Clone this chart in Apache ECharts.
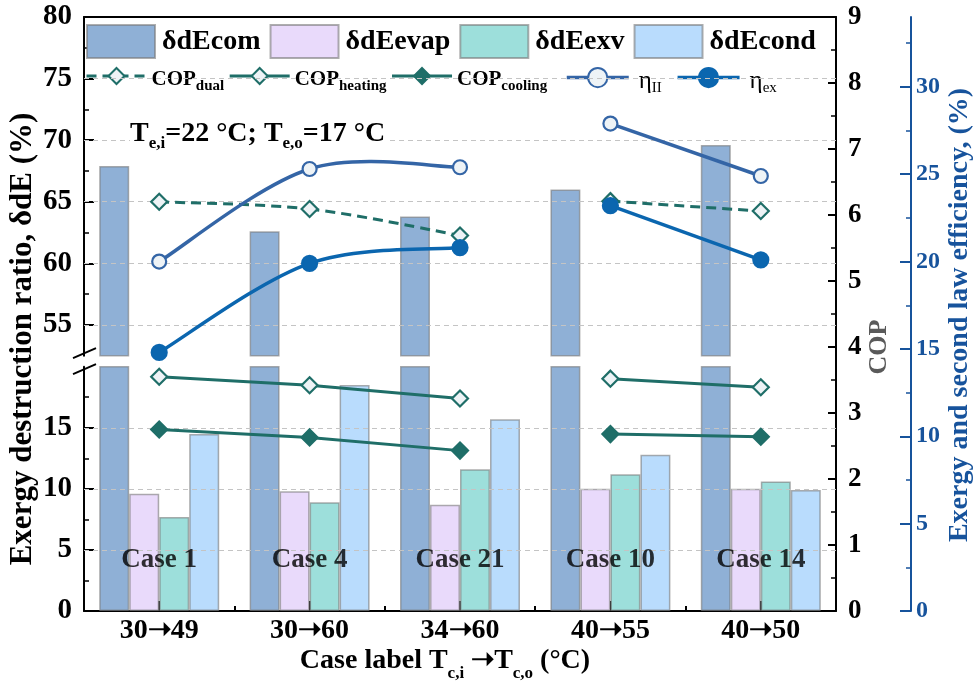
<!DOCTYPE html>
<html><head><meta charset="utf-8">
<script src="https://cdn.jsdelivr.net/npm/echarts@6/dist/echarts.min.js"></script>
<style>html,body{margin:0;padding:0;background:#fff}#c{width:978px;height:688px}</style>
</head><body><div id="c"></div>
<script>
// ---------------- data ----------------
const categories = ['30\u279D49', '30\u279D60', '34\u279D60', '40\u279D55', '40\u279D50'];
const caseNames = ['Case 1', 'Case 4', 'Case 21', 'Case 10', 'Case 14'];
const dEcom  = [67.9, 62.6, 63.8, 66.0, 69.6];
const dEevap = [9.6, 9.8, 8.7, 10.0, 10.0];
const dEexv  = [7.7, 8.9, 11.6, 11.2, 10.6];
const dEcond = [14.5, 18.5, 15.7, 12.8, 9.9];
const copDual    = [6.20, 6.09, 5.69, 6.21, 6.06];
const copHeating = [3.55, 3.42, 3.22, 3.52, 3.39];
const copCooling = [2.75, 2.63, 2.43, 2.68, 2.64];
const etaII = [20.0, 25.3, 25.4, 27.9, 24.9];
const etaEx = [14.8, 19.9, 20.8, 23.2, 20.1];
const upperTicks = [55, 60, 65, 70, 75, 80];
const lowerTicks = [0, 5, 10, 15];
const effTicks = [0, 5, 10, 15, 20, 25, 30];
const segments = [[0, 1, 2], [3, 4]];

// ---------------- layout / style ----------------
const F = '"Liberation Serif","Times New Roman",serif';
const UPPER_MIN = 52.5, UPPER_MAX = 80, LOWER_MAX = 20, CASE_Y = 4.2;
const GL = 84, GR = 142, GT = 17, GB = 77;
const LOW_TOP = 366.7;
const TEAL = '#1f6e68', BLUE_II = '#3465a6', BLUE_EX = '#0b66af', EFF_BLUE = '#17539c';
const OPEN_FILL = '#eef3f6';
const BAR_BORDER = 'rgba(120,120,120,0.6)';
const barDefs = [
  {name: 'δdEcom', data: dEcom, color: '#8fb0d6'},
  {name: 'δdEevap', data: dEevap, color: '#e9dafb'},
  {name: 'δdEexv', data: dEexv, color: '#9ddfdb'},
  {name: 'δdEcond', data: dEcond, color: '#b9dcfd'}
];
const lineDefs = [
  {name: 'COPdual', data: copDual, y: 2, symbol: 'diamond', size: 16, open: true, color: TEAL, dash: [10, 6], curve: true, width: 3},
  {name: 'COPheating', data: copHeating, y: 2, symbol: 'diamond', size: 16, open: true, color: TEAL, dash: null, curve: false, width: 3},
  {name: 'COPcooling', data: copCooling, y: 2, symbol: 'diamond', size: 16, open: false, color: TEAL, dash: null, curve: false, width: 3},
  {name: 'etaII', data: etaII, y: 3, symbol: 'circle', size: 14, open: true, color: BLUE_II, dash: null, curve: true, width: 3.5},
  {name: 'etaEx', data: etaEx, y: 3, symbol: 'circle', size: 15, open: false, color: BLUE_EX, dash: null, curve: true, width: 3.5}
];

const gridLineStyle = {color: '#c4c4c4', width: 1, type: [5, 4]};
const series = [];
barDefs.forEach((b, k) => {
  const common = {
    type: 'bar', name: b.name, barWidth: 30, barGap: '0%', z: 2, clip: true,
    itemStyle: {color: b.color, borderColor: BAR_BORDER, borderWidth: 1.5}
  };
  const lower = Object.assign({}, common, {xAxisIndex: 1, yAxisIndex: 1, data: b.data.slice()});
  const upper = Object.assign({}, common, {xAxisIndex: 0, yAxisIndex: 0,
    data: b.data.map(v => v > UPPER_MIN ? v : null)});
  if (k === 0) {
    lower.markLine = {silent: true, symbol: 'none', label: {show: false}, animation: false,
      lineStyle: gridLineStyle, data: lowerTicks.filter(v => v > 0).map(v => ({yAxis: v}))};
    upper.markLine = {silent: true, symbol: 'none', label: {show: false}, animation: false,
      lineStyle: gridLineStyle, data: upperTicks.filter(v => v < UPPER_MAX).map(v => ({yAxis: v}))};
  }
  series.push(lower, upper);
});

// Catmull-Rom curve through the scaled data points (rendering only, no extra data)
function curveRenderer(def, seg) {
  return function (params, api) {
    if (params.dataIndex !== 0) return null;
    const pts = seg.map(i => api.coord([i, def.data[i]]));
    const children = [];
    for (let k = 0; k < pts.length - 1; k++) {
      const p0 = pts[k - 1] || pts[k], p1 = pts[k], p2 = pts[k + 1], p3 = pts[k + 2] || pts[k + 1];
      children.push({
        type: 'bezierCurve',
        shape: {
          x1: p1[0], y1: p1[1], x2: p2[0], y2: p2[1],
          cpx1: p1[0] + (p2[0] - p0[0]) / 6, cpy1: p1[1] + (p2[1] - p0[1]) / 6,
          cpx2: p2[0] - (p3[0] - p1[0]) / 6, cpy2: p2[1] - (p3[1] - p1[1]) / 6
        },
        style: {fill: null, stroke: def.color, lineWidth: def.width, lineDash: def.dash || null}
      });
    }
    return {type: 'group', children: children};
  };
}

lineDefs.forEach(l => {
  // second segment first: the legend takes its icon from it
  [segments[1], segments[0]].forEach(seg => {
    const useCurve = l.curve && seg.length > 2;
    series.push({
      type: 'line', name: l.name, xAxisIndex: 2, yAxisIndex: l.y, z: 10,
      data: l.data.map((v, i) => seg.includes(i) ? v : null),
      connectNulls: false, smooth: false,
      symbol: l.symbol, symbolSize: l.size, showAllSymbol: true,
      lineStyle: {color: l.color, width: l.width, type: l.dash || 'solid', opacity: useCurve ? 0 : 1},
      itemStyle: {color: l.open ? OPEN_FILL : l.color, borderColor: l.color, borderWidth: 2.2}
    });
    if (useCurve) {
      series.push({
        type: 'custom', xAxisIndex: 2, yAxisIndex: l.y, z: 9, silent: true,
        data: seg.map(i => [i, l.data[i]]),
        encode: {x: 0, y: 1},
        renderItem: curveRenderer(l, seg)
      });
    }
  });
});

series.push({
  type: 'scatter', xAxisIndex: 1, yAxisIndex: 1, symbolSize: 0, z: 8, silent: true,
  data: caseNames.map((n, i) => [i, CASE_Y]),
  label: {show: true, position: 'inside', formatter: p => caseNames[p.dataIndex],
    fontFamily: F, fontSize: 27, fontWeight: 'bold', color: '#000'}
});

const blackLine = {show: true, onZero: false, lineStyle: {color: '#000', width: 2}};
const leftLabel = {fontFamily: F, fontSize: 29, fontWeight: 'bold', color: '#000', margin: 12};

const option = {
  animation: false,
  backgroundColor: '#fff',
  grid: [
    {left: GL, right: GR, top: GT, bottom: 688 - 355.7, containLabel: false, outerBoundsMode: 'none'},
    {left: GL, right: GR, top: LOW_TOP, bottom: GB, containLabel: false, outerBoundsMode: 'none'},
    {left: GL, right: GR, top: GT, bottom: GB, containLabel: false, outerBoundsMode: 'none'}
  ],
  xAxis: [
    {gridIndex: 0, type: 'category', data: categories, position: 'top', axisLine: blackLine,
      axisTick: {show: false}, axisLabel: {show: false}, splitLine: {show: false}},
    {gridIndex: 1, type: 'category', data: categories, position: 'bottom', axisLine: blackLine,
      axisTick: {show: true, alignWithLabel: true, inside: true, length: 10, lineStyle: {color: '#000', width: 2}},
      axisLabel: {fontFamily: F, fontSize: 28, fontWeight: 'bold', color: '#000', margin: 6},
      splitLine: {show: false}},
    {gridIndex: 2, type: 'category', data: categories, position: 'bottom',
      axisLine: {show: false},
      axisTick: {show: true, alignWithLabel: false, inside: true, length: 5, lineStyle: {color: '#000', width: 2}},
      axisLabel: {show: false}, splitLine: {show: false}}
  ],
  yAxis: [
    {gridIndex: 0, type: 'value', position: 'left', min: UPPER_MIN, max: UPPER_MAX, minInterval: 5, maxInterval: 5,
      axisLine: blackLine,
      axisTick: {show: true, inside: true, length: 10, customValues: upperTicks, lineStyle: {color: '#000', width: 2}},
      minorTick: {show: true, splitNumber: 2, length: 5, lineStyle: {color: '#000', width: 1.5}},
      axisLabel: Object.assign({customValues: upperTicks}, leftLabel),
      splitLine: {show: false}, minorSplitLine: {show: false}},
    {gridIndex: 1, type: 'value', position: 'left', min: 0, max: LOWER_MAX, interval: 5,
      axisLine: blackLine,
      axisTick: {show: true, inside: true, length: 10, customValues: lowerTicks, lineStyle: {color: '#000', width: 2}},
      minorTick: {show: true, splitNumber: 2, length: 5, lineStyle: {color: '#000', width: 1.5}},
      axisLabel: Object.assign({customValues: lowerTicks}, leftLabel),
      splitLine: {show: false}, minorSplitLine: {show: false}},
    {gridIndex: 2, type: 'value', position: 'right', min: 0, max: 9, interval: 1,
      axisLine: blackLine,
      axisTick: {show: true, inside: true, length: 8, lineStyle: {color: '#000', width: 2}},
      minorTick: {show: true, splitNumber: 2, length: 5, lineStyle: {color: '#000', width: 1.5}},
      axisLabel: {fontFamily: F, fontSize: 27, fontWeight: 'bold', color: '#000', margin: 12},
      splitLine: {show: false}},
    {gridIndex: 2, type: 'value', position: 'right', offset: 75, min: 0, max: 34, minInterval: 5, maxInterval: 5,
      axisLine: {show: true, onZero: false, lineStyle: {color: EFF_BLUE, width: 2}},
      axisTick: {show: true, inside: true, length: 11, customValues: effTicks, lineStyle: {color: EFF_BLUE, width: 2}},
      minorTick: {show: true, splitNumber: 2, length: 5, lineStyle: {color: EFF_BLUE, width: 1.5}},
      axisLabel: {customValues: effTicks, fontFamily: F, fontSize: 24, fontWeight: 'bold', color: EFF_BLUE, margin: 5},
      splitLine: {show: false}}
  ],
  legend: [
    {left: 86, top: 24, padding: 0, orient: 'horizontal', icon: 'rect', itemWidth: 68, itemHeight: 33, itemGap: 9,
      data: barDefs.map(b => b.name), selectedMode: false,
      textStyle: {fontFamily: F, fontSize: 28, fontWeight: 'bold', color: '#000', padding: [0, 0, 0, 2]}},
    {left: 85, top: 67, padding: 0, itemWidth: 60, itemHeight: 20, itemGap: 4, selectedMode: false,
      data: ['COPdual', 'COPheating', 'COPcooling'],
      lineStyle: {width: 3},
      formatter: n => '{m|COP}{s|' + n.slice(3) + '}',
      textStyle: {fontFamily: F, color: '#000', padding: [8, 0, 0, 0], rich: {
        m: {fontFamily: F, fontSize: 21, fontWeight: 'bold', color: '#000', lineHeight: 28},
        s: {fontFamily: F, fontSize: 15, fontWeight: 'bold', color: '#000', lineHeight: 15, verticalAlign: 'bottom'}}}},
    {left: 565, top: 67, padding: 0, itemWidth: 62, itemHeight: 24, itemGap: 14, selectedMode: false,
      data: ['etaII', 'etaEx'],
      lineStyle: {width: 3.5},
      formatter: n => '{e|η}{s|' + (n === 'etaII' ? 'II' : 'ex') + '}',
      textStyle: {fontFamily: F, color: '#000', padding: [8, 0, 0, 0], rich: {
        e: {fontFamily: F, fontSize: 25, color: '#000', lineHeight: 28, padding: [0, 0, 0, 5]},
        s: {fontFamily: F, fontSize: 15, color: '#000', lineHeight: 15, verticalAlign: 'bottom'}}}}
  ],
  series: series
};

const chart = echarts.init(document.getElementById('c'));
chart.setOption(option);

const yA = chart.convertToPixel({yAxisIndex: 0}, UPPER_MIN);
const yB = chart.convertToPixel({yAxisIndex: 1}, LOWER_MAX);
const mid = (yA + yB) / 2;
chart.setOption({
  graphic: [
    {type: 'line', z: 20, shape: {x1: GL - 11, y1: mid - 8 + 5, x2: GL + 12, y2: mid - 8 - 5},
      style: {stroke: '#000', lineWidth: 2}},
    {type: 'line', z: 20, shape: {x1: GL - 11, y1: mid + 8 + 5, x2: GL + 12, y2: mid + 8 - 5},
      style: {stroke: '#000', lineWidth: 2}},
    {type: 'text', z: 20, x: 130, y: 134, style: {
      text: '{b|T}{s|e,i}{b|=22 °C; T}{s|e,o}{b|=17 °C}',
      rich: {
        b: {fontFamily: F, fontSize: 28, fontWeight: 'bold', fill: '#000', lineHeight: 36},
        s: {fontFamily: F, fontSize: 17, fontWeight: 'bold', fill: '#000', lineHeight: 17, verticalAlign: 'bottom'}
      },
      backgroundColor: '#fff', padding: [0, 2, 0, 0],
      align: 'left', verticalAlign: 'middle'}},
    {type: 'text', z: 20, x: 445, y: 661, style: {
      text: '{b|Case label T}{s|c,i}{b| \u279DT}{s|c,o}{b| (°C)}',
      rich: {
        b: {fontFamily: F, fontSize: 28, fontWeight: 'bold', fill: '#000', lineHeight: 43},
        s: {fontFamily: F, fontSize: 17, fontWeight: 'bold', fill: '#000', lineHeight: 17, verticalAlign: 'bottom'}
      },
      align: 'center', verticalAlign: 'middle'}},
    {type: 'text', z: 20, x: 23, y: 339, rotation: Math.PI / 2, style: {
      text: 'Exergy destruction ratio, δdE (%)', fontFamily: F, fontSize: 31, fontWeight: 'bold',
      fill: '#000', align: 'center', verticalAlign: 'middle'}},
    {type: 'text', z: 20, x: 879, y: 347, rotation: Math.PI / 2, style: {
      text: 'COP', fontFamily: F, fontSize: 26, fontWeight: 'bold',
      fill: '#5a5a5a', align: 'center', verticalAlign: 'middle'}},
    {type: 'text', z: 20, x: 959.5, y: 315, rotation: Math.PI / 2, style: {
      text: 'Exergy and second law efficiency, (%)', fontFamily: F, fontSize: 28, fontWeight: 'bold',
      fill: EFF_BLUE, align: 'center', verticalAlign: 'middle'}}
  ]
});
</script>
</body></html>
